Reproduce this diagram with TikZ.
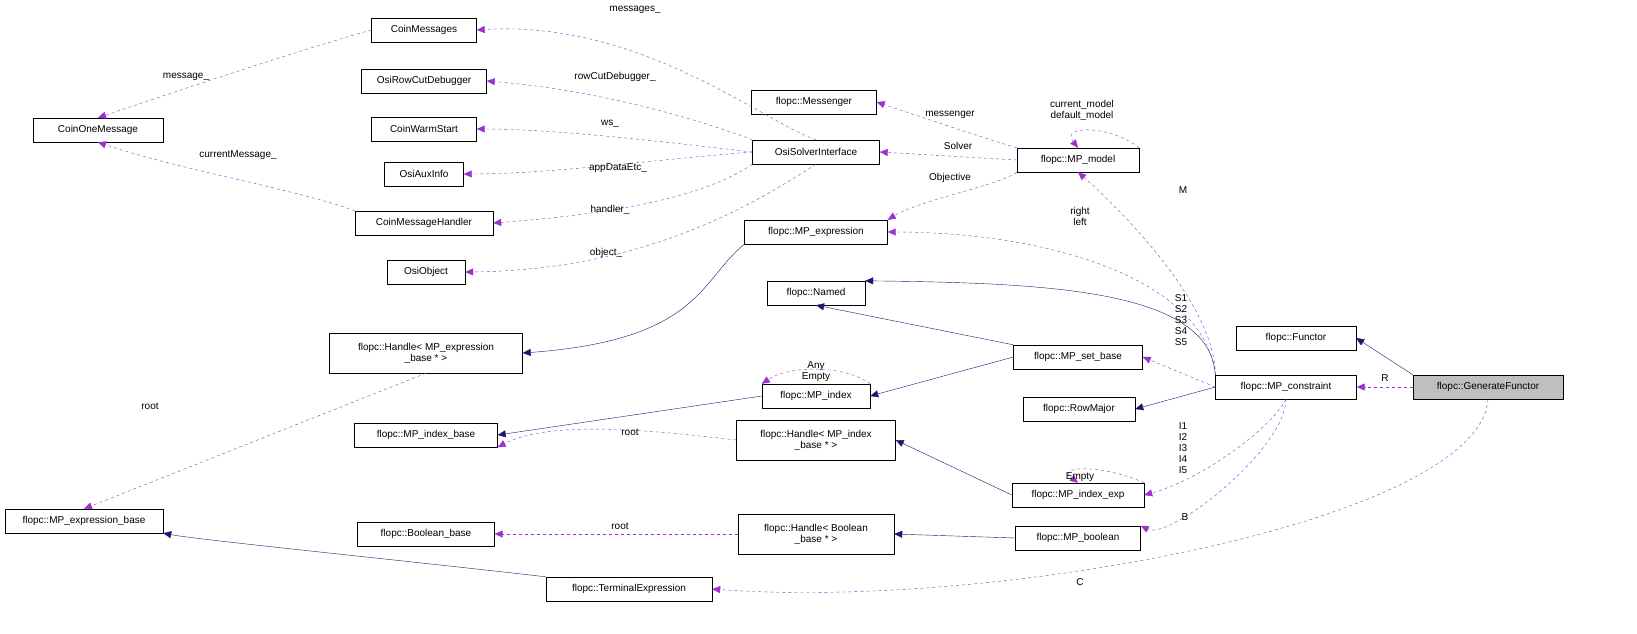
\documentclass[tikz,border=0pt]{standalone}
\usepackage{fontspec}
\setmainfont{Liberation Sans}
\usetikzlibrary{arrows.meta}
\begin{document}
\begin{tikzpicture}[x=1pt,y=-1pt,
 box/.style={draw,fill=white,minimum height=24pt,inner sep=2pt,font=\fontsize{10}{11}\selectfont,align=center},
 box2/.style={box,minimum height=40pt},
 dep/.style={dashed,draw={rgb,255:red,154;green,50;blue,205},-{Triangle[length=8pt,width=7pt]}},
 inh/.style={draw={rgb,255:red,25;green,25;blue,112},-{Triangle[length=8pt,width=7pt]}},
 lab/.style={font=\fontsize{10}{11}\selectfont,align=center,inner sep=1pt}]
\useasboundingbox (0,0) rectangle (1637,633);
\node[box,minimum width=105pt] (cm) at (424,30) {CoinMessages};
\node[box,minimum width=130pt] (com) at (98,130) {CoinOneMessage};
\node[box,minimum width=125pt] (rcd) at (424,81) {OsiRowCutDebugger};
\node[box,minimum width=105pt] (ws) at (424,129) {CoinWarmStart};
\node[box,minimum width=79pt] (aux) at (424,174) {OsiAuxInfo};
\node[box,minimum width=138pt] (cmh) at (424,223) {CoinMessageHandler};
\node[box,minimum width=78pt] (obj) at (426,272) {OsiObject};
\node[box,minimum width=127pt] (osi) at (816,152) {OsiSolverInterface};
\node[box,minimum width=125pt] (msg) at (814,102) {flopc::Messenger};
\node[box,minimum width=122pt] (mod) at (1078,160) {flopc::MP\_model};
\node[box,minimum width=143pt] (exp) at (816,232) {flopc::MP\_expression};
\node[box,minimum width=98pt] (nam) at (816,293) {flopc::Named};
\node[box2,minimum width=193pt] (hexp) at (426,353) {flopc::Handle< MP\_expression\\\_base * >};
\node[box,minimum width=108pt] (idx) at (816,396) {flopc::MP\_index};
\node[box,minimum width=129pt] (set) at (1078,357) {flopc::MP\_set\_base};
\node[box,minimum width=143pt] (ib) at (426,435) {flopc::MP\_index\_base};
\node[box2,minimum width=159pt] (hib) at (816,440) {flopc::Handle< MP\_index\\\_base * >};
\node[box,minimum width=132pt] (ie) at (1078,495) {flopc::MP\_index\_exp};
\node[box,minimum width=158pt] (eb) at (84,521) {flopc::MP\_expression\_base};
\node[box,minimum width=137pt] (bb) at (426,534) {flopc::Boolean\_base};
\node[box2,minimum width=156pt] (hbb) at (816,534) {flopc::Handle< Boolean\\\_base * >};
\node[box,minimum width=125pt] (bool) at (1078,538) {flopc::MP\_boolean};
\node[box,minimum width=166pt] (te) at (629,589) {flopc::TerminalExpression};
\node[box,minimum width=120pt] (fun) at (1296,338) {flopc::Functor};
\node[box,minimum width=112pt] (rm) at (1079,409) {flopc::RowMajor};
\node[box,minimum width=141pt] (con) at (1286,387) {flopc::MP\_constraint};
\node[box,minimum width=150pt,fill={rgb,255:red,191;green,191;blue,191}] (gf) at (1488,387) {flopc::GenerateFunctor};
% Coin / Osi
\draw[dep] (cm.west) .. controls (300,50) and (180,90) .. (com.north);
\draw[dep] (cmh.north west) .. controls (300,190) and (180,170) .. (com.south);
\draw[dep] (osi.north) .. controls (760,120) and (640,20) .. (cm.east);
\draw[dep] (osi.north west) .. controls (700,120) and (600,90) .. (rcd.east);
\draw[dep] (osi.west) .. controls (650,140) and (550,129) .. (ws.east);
\draw[dep] (osi.west) .. controls (650,160) and (550,174) .. (aux.east);
\draw[dep] (osi.south west) .. controls (700,200) and (600,215) .. (cmh.east);
\draw[dep] (osi.south) .. controls (760,200) and (650,270) .. (obj.east);
\node[lab] at (186,77) {message\_};
\node[lab] at (238,155) {currentMessage\_};
\node[lab] at (635,10) {messages\_};
\node[lab] at (615,77) {rowCutDebugger\_};
\node[lab] at (610,124) {ws\_};
\node[lab] at (618,168) {appDataEtc\_};
\node[lab] at (610,210) {handler\_};
\node[lab] at (606,253) {object\_};
% model
\draw[dep] (mod.north west) .. controls (990,140) and (930,120) .. (msg.east);
\draw[dep] (mod.west) -- (osi.east);
\draw[dep] (mod.north east) .. controls (1110,125) and (1060,125) .. (mod.north);
\draw[dep] (mod.south west) .. controls (1000,185) and (920,200) .. (exp.north east);
\node[lab] at (950,115) {messenger};
\node[lab] at (958,146) {Solver};
\node[lab] at (1082,110) {current\_model\\default\_model};
\node[lab] at (950,178) {Objective};
% constraint
\draw[dep] (con.north west) .. controls (1215,300) and (1110,200) .. (mod.south);
\draw[dep] (con.north west) .. controls (1205,280) and (1050,232) .. (exp.east);
\draw[inh] (con.north west) .. controls (1210,290) and (1050,283) .. (nam.north east);
\draw[dep] (con.west) -- (set.east);
\draw[inh] (con.west) -- (rm.east);
\draw[dep] (con.south) .. controls (1270,430) and (1200,480) .. (ie.east);
\draw[dep] (con.south) .. controls (1285,450) and (1170,540) .. (bool.north east);
\node[lab] at (1183,190) {M};
\node[lab] at (1080,216) {right\\left};
\node[lab] at (1181,320) {S1\\S2\\S3\\S4\\S5};
\node[lab] at (1183,448) {I1\\I2\\I3\\I4\\I5};
\node[lab] at (1185,517) {B};
% inheritance others
\draw[inh] (set.north west) -- (nam.south);
\draw[inh] (set.west) -- (idx.east);
\draw[inh] (idx.west) -- (ib.east);
\draw[inh] (exp.south west) .. controls (700,280) and (700,340) .. (hexp.east);
\draw[inh] (ie.west) -- (hib.east);
\draw[inh] (bool.west) -- (hbb.east);
\draw[inh] (te.north west) .. controls (400,560) and (200,540) .. (eb.south east);
\draw[dep] (idx.north east) .. controls (845,365) and (790,365) .. (idx.north west);
\draw[dep] (ie.north east) .. controls (1105,465) and (1055,465) .. (ie.north);
\node[lab] at (816,372) {Any\\Empty};
\node[lab] at (1080,477) {Empty};
\draw[dep] (hexp.south) -- (eb.north);
\draw[dep] (hib.west) .. controls (650,430) and (550,420) .. (ib.south east);
\draw[dep] (hbb.west) -- (bb.east);
\node[lab] at (150,406) {root};
\node[lab] at (630,432) {root};
\node[lab] at (620,526) {root};
% generate functor
\draw[inh] (gf.north west) -- (fun.east);
\draw[dep] (gf.west) -- (con.east);
\draw[dep] (gf.south) .. controls (1480,520) and (1000,610) .. (te.east);
\node[lab] at (1385,378) {R};
\node[lab] at (1080,582) {C};
\end{tikzpicture}
\end{document}
